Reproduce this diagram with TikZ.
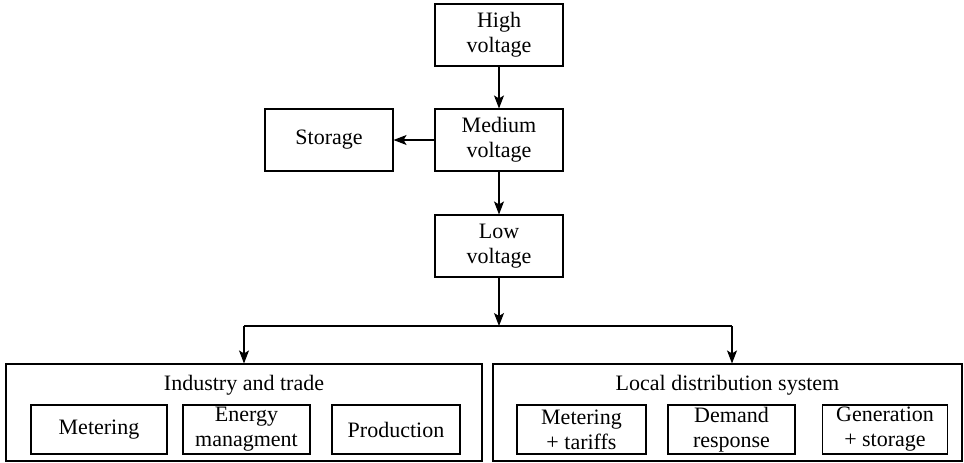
\documentclass[tikz,border=0pt]{standalone}
\usepackage{fontspec}
\setmainfont{Liberation Serif}
\usetikzlibrary{arrows.meta}
\begin{document}
\begin{tikzpicture}[x=1pt,y=-1pt,
  every node/.style={font=\fontsize{22}{25}\selectfont},
  box/.style={draw, line width=1.1pt, inner sep=0pt, align=center},
  big/.style={draw, line width=1.1pt, inner sep=0pt},
  title/.style={inner sep=0pt, anchor=base},
  arr/.style={line width=1.1pt, -{Stealth[length=13pt,width=10pt,inset=3pt]}},
  ln/.style={line width=1.1pt}]
\useasboundingbox (0,0) rectangle (964,463);
\node[box, minimum width=128pt, minimum height=62pt] (hv) at (499,35) {High\\voltage};
\node[box, minimum width=128pt, minimum height=62pt] (mv) at (499,140) {Medium\\voltage};
\node[box, minimum width=128pt, minimum height=62pt] (st) at (329,140) {Storage};
\node[box, minimum width=128pt, minimum height=62pt] (lv) at (499,246) {Low\\voltage};
\node[big, minimum width=476pt, minimum height=97pt] (ind) at (244,412.5) {};
\node[big, minimum width=469pt, minimum height=97pt] (loc) at (727.5,412.5) {};
\node[title] (indt) at (244,390) {Industry and trade};
\node[title] (loct) at (727.5,390) {Local distribution system};
\node[box, minimum width=136pt, minimum height=49pt] (m1) at (99,429.5) {Metering};
\node[box, minimum width=127pt, minimum height=49pt] (m2) at (246.5,429.5) {Energy\\managment};
\node[box, minimum width=128pt, minimum height=49pt] (m3) at (396,429.5) {Production};
\node[box, minimum width=129pt, minimum height=49pt] (r1) at (581.5,429.5) {Metering\\+ tariffs};
\node[box, minimum width=127pt, minimum height=49pt] (r2) at (731.5,429.5) {Demand\\response};
\node[box, minimum width=125pt, minimum height=49pt] (r3) at (885,429.5) {Generation\\+ storage};
\coordinate (j) at (499,326);
\coordinate (jl) at (244,326);
\coordinate (jr) at (732,326);
\draw[arr] (hv) -- (mv);
\draw[arr] (mv) -- (st);
\draw[arr] (mv) -- (lv);
\draw[arr] (lv) -- (j);
\draw[ln] (jl) -- (jr);
\draw[arr] (jl) -- (jl |- ind.north);
\draw[arr] (jr) -- (jr |- loc.north);
\end{tikzpicture}
\end{document}
